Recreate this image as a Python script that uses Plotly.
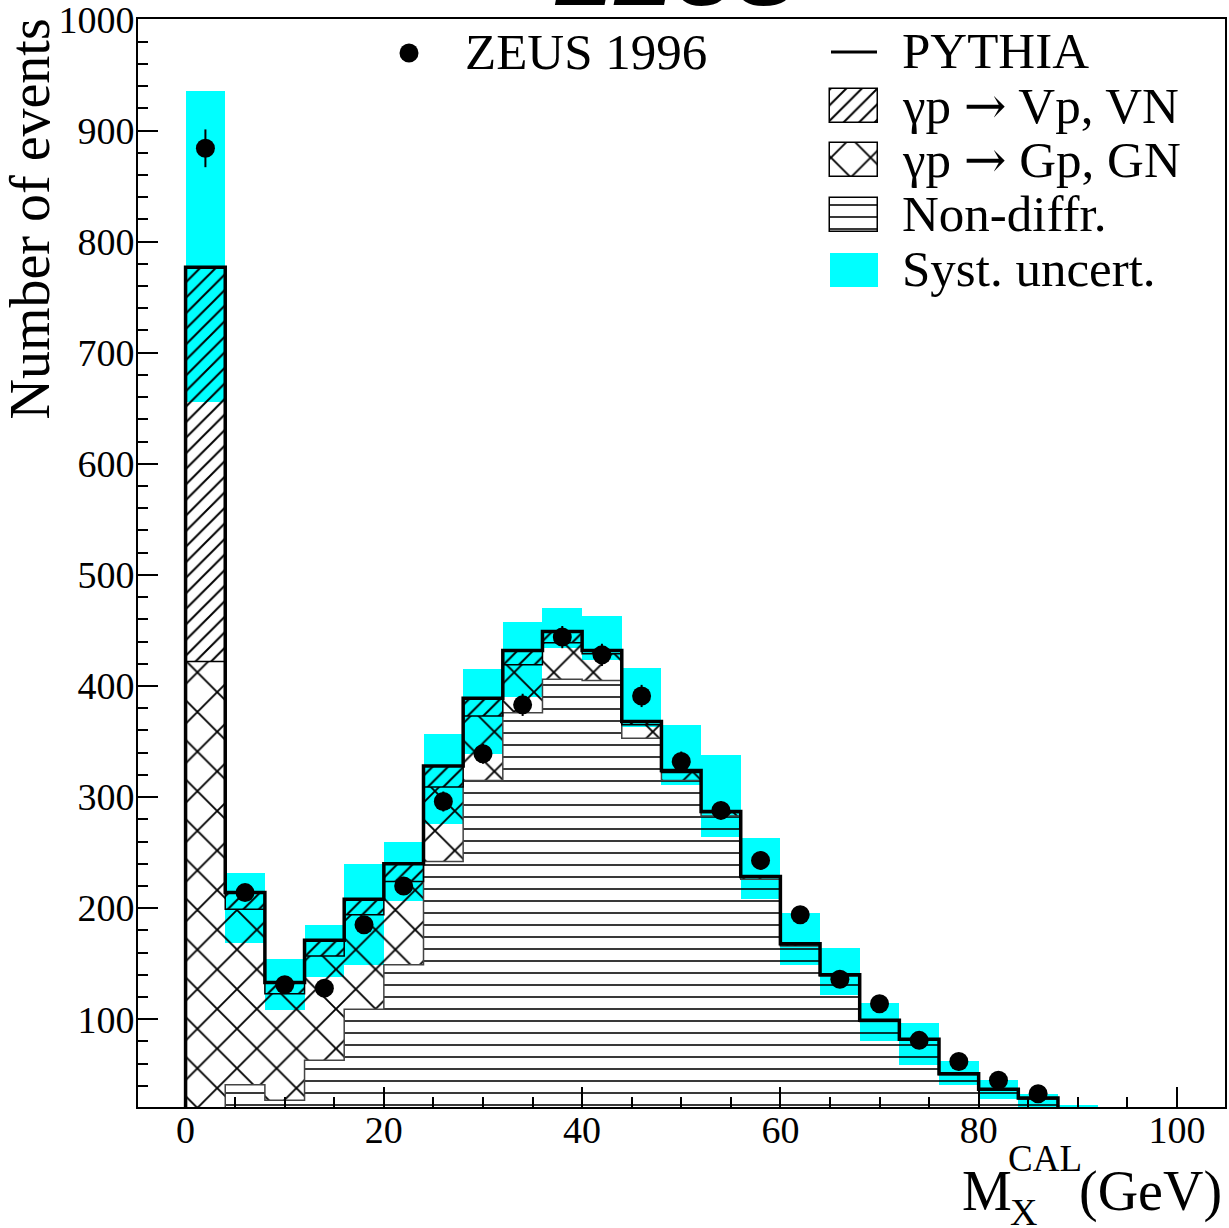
import numpy as np
import plotly.graph_objects as go

# M_X^CAL histogram, 4 GeV bins (bin centres in GeV)
BIN_WIDTH = 4
mx_centres = [2, 6, 10, 14, 18, 22, 26, 30, 34, 38, 42, 46, 50, 54, 58, 62, 66, 70, 74, 78, 82, 86]

# ZEUS 1996 data points
zeus_events = [884, 214, 131, 128, 185, 220, 296, 339, 383, 444, 428, 391, 332, 288, 243, 194, 136, 114, 81, 62, 45, 33]
zeus_errors = [17, 7, 6, 6, 7, 7, 9, 9, 10, 10, 10, 10, 9, 8, 8, 7, 6, 6, 5, 4, 4, 3]

# PYTHIA, split into its three (stacked) contributions
non_diffr = [0, 41, 27, 63, 109, 149, 242, 315, 376, 406, 405, 353, 315, 283, 226, 166, 139, 98, 81, 50, 36, 28]
gp_gn = [422, 158, 96, 94, 85, 75, 67, 58, 43, 33, 24, 12, 7, 3, 2, 1, 1, 1, 1, 1, 1, 1]
vp_vn = [355, 15, 10, 14, 14, 16, 19, 16, 13, 10, 3, 3, 2, 1, 0.5, 1, 0, 0, 0, 0, 0, 0]

# systematic uncertainty band (one more bin than the data)
syst_centres = [2, 6, 10, 14, 18, 22, 26, 30, 34, 38, 42, 46, 50, 54, 58, 62, 66, 70, 74, 78, 82, 86, 90]
syst_low = [656, 169, 108, 138, 149, 206, 276, 339, 390, 434, 423, 363, 311, 264, 208, 149, 122, 80, 59, 41, 28, 15, 10]
syst_high = [936, 232, 154, 185, 240, 260, 357, 415, 458, 470, 463, 416, 365, 338, 263, 196, 164, 115, 97, 62, 45, 33, 22.5]

SERIF = 'Liberation Serif'
CYAN = '#00ffff'
CLEAR = 'rgba(0,0,0,0)'
ARROW = '<span style="font-family:DejaVu Serif">→</span>'

# page / plot frame in pixels
PAGE_W, PAGE_H = 1229, 1228
PLOT_L, PLOT_R, PLOT_T, PLOT_B = 138, 1225, 19, 1107


def paper_x(px):
    return (px - PLOT_L) / (PLOT_R - PLOT_L)


def paper_y(py):
    return (PLOT_B - py) / (PLOT_B - PLOT_T)


HATCH = {
    'vp': dict(shape='/', size=11, solidity=0.18, fgcolor='black', fgopacity=1, bgcolor=CLEAR),
    'gp': dict(shape='x', size=28, solidity=0.13, fgcolor='black', fgopacity=1, bgcolor=CLEAR),
    'nd': dict(shape='-', size=12, solidity=0.13, fgcolor='black', fgopacity=1, bgcolor=CLEAR),
}

centres = np.array(mx_centres, dtype=float)
nd = np.array(non_diffr, dtype=float)
gp = np.array(gp_gn, dtype=float)
vp = np.array(vp_vn, dtype=float)
pythia = nd + gp + vp

fig = go.Figure()

# syst. band behind everything
fig.add_trace(go.Bar(x=syst_centres,
                     base=syst_low,
                     y=np.array(syst_high) - np.array(syst_low),
                     width=BIN_WIDTH,
                     marker=dict(color=CYAN, line=dict(width=0))))

# hatched stack: non-diffr., then Gp/GN, then Vp/VN
for values, base, style in [(nd, 0, 'nd'), (gp, nd, 'gp'), (vp, nd + gp, 'vp')]:
    fig.add_trace(go.Bar(x=centres,
                         y=values,
                         base=base,
                         width=BIN_WIDTH,
                         marker=dict(color=CLEAR, line=dict(width=0), pattern=HATCH[style])))

# histogram outlines drawn as steps
left = centres - BIN_WIDTH / 2
step_x = np.r_[left[0], left, left[-1] + BIN_WIDTH]


def step(values):
    return np.r_[0, values, 0]


fig.add_trace(go.Scatter(x=step_x, y=step(nd), mode='lines',
                         line=dict(shape='hv', color='#444444', width=1.5)))
fig.add_trace(go.Scatter(x=step_x, y=step(nd + gp), mode='lines',
                         line=dict(shape='hv', color='black', width=1.5)))
fig.add_trace(go.Scatter(x=step_x, y=step(pythia), mode='lines',
                         line=dict(shape='hv', color='black', width=3.5)))

# data
fig.add_trace(go.Scatter(x=centres, y=zeus_events, mode='markers',
                         marker=dict(color='black', size=19),
                         error_y=dict(type='data', array=zeus_errors,
                                      thickness=2, width=0, color='black')))

# hand-made legend on a pixel-scaled overlay axis
SW_X, SW_W, SW_H = 854, 48, 34
legend_boxes = [('vp', 106), ('gp', 160), ('nd', 215)]
for style, row in legend_boxes:
    fig.add_trace(go.Bar(x=[SW_X], y=[SW_H], base=[row - SW_H / 2], width=SW_W,
                         xaxis='x2', yaxis='y2',
                         marker=dict(color=CLEAR, line=dict(color='black', width=1.5),
                                     pattern=HATCH[style])))
fig.add_trace(go.Bar(x=[SW_X], y=[SW_H], base=[270 - SW_H / 2], width=SW_W,
                     xaxis='x2', yaxis='y2',
                     marker=dict(color=CYAN, line=dict(width=0))))
fig.add_trace(go.Scatter(x=[831, 877], y=[52, 52], mode='lines', xaxis='x2', yaxis='y2',
                         line=dict(color='black', width=3)))
fig.add_trace(go.Scatter(x=[409], y=[53], mode='markers', xaxis='x2', yaxis='y2',
                         marker=dict(color='black', size=19)))

legend_texts = [('ZEUS 1996', 463, 52), ('PYTHIA', 900, 51),
                (f'γp {ARROW} Vp, VN', 900, 105), (f'γp {ARROW} Gp, GN', 900, 159),
                ('Non-diffr.', 900, 214), ('Syst. uncert.', 900, 269)]
annotations = [dict(text=text, x=x, y=y, xref='x2', yref='y2',
                    xanchor='left', yanchor='middle', showarrow=False,
                    font=dict(family=SERIF, size=51, color='black'))
               for text, x, y in legend_texts]

# axis titles and the (cut off) ZEUS logo
annotations += [
    dict(text='Number of events', textangle=-90, x=paper_x(30), y=paper_y(17),
         xanchor='center', yanchor='top'),
    dict(text='M', x=paper_x(960), y=paper_y(1191), xanchor='left', yanchor='middle'),
    dict(text='X', x=paper_x(1008), y=paper_y(1212), xanchor='left', yanchor='middle',
         font=dict(family=SERIF, size=38, color='black')),
    dict(text='CAL', x=paper_x(1006), y=paper_y(1158), xanchor='left', yanchor='middle',
         font=dict(family=SERIF, size=37, color='black')),
    dict(text='(GeV)', x=paper_x(1224), y=paper_y(1191), xanchor='right', yanchor='middle'),
    dict(text='<b><i>ZEUS</i></b>', x=paper_x(675), y=paper_y(-26), xanchor='center',
         yanchor='middle', font=dict(family='Liberation Sans', size=90, color='black')),
]
for ann in annotations[len(legend_texts):]:
    ann.setdefault('font', dict(family=SERIF, size=56, color='black'))
    ann.update(xref='paper', yref='paper', showarrow=False)

axis_style = dict(showgrid=False, zeroline=False, showline=True, linecolor='black',
                  linewidth=2, mirror=True, ticks='inside', ticklen=20, tickwidth=2,
                  tickcolor='black', ticklabeloverflow='allow', automargin=False,
                  tickfont=dict(family=SERIF, size=38, color='black'))

fig.update_layout(
    width=PAGE_W, height=PAGE_H,
    margin=dict(l=PLOT_L, r=PAGE_W - PLOT_R, t=PLOT_T, b=PAGE_H - PLOT_B),
    paper_bgcolor='white', plot_bgcolor='white',
    barmode='overlay', showlegend=False, bargap=0,
    font=dict(family=SERIF, color='black'),
    xaxis=dict(range=[-4.8, 104.85], tick0=0, dtick=20, ticklabelstandoff=-12,
               minor=dict(dtick=5, ticklen=10, tickwidth=2, ticks='inside', tickcolor='black'),
               **axis_style),
    yaxis=dict(range=[21, 1000.4], tick0=0, dtick=100, ticklabelstandoff=-6,
               minor=dict(dtick=20, ticklen=10, tickwidth=2, ticks='inside', tickcolor='black'),
               **axis_style),
    xaxis2=dict(overlaying='x', anchor='y2', range=[PLOT_L, PLOT_R], visible=False),
    yaxis2=dict(overlaying='y', anchor='x2', range=[PLOT_B, PLOT_T], visible=False),
    annotations=annotations,
)

# the page's default body margin would shift the figure by 8px
fig.write_html("out.html", config={'displayModeBar': False},
               post_script="document.body.style.margin='0';")
